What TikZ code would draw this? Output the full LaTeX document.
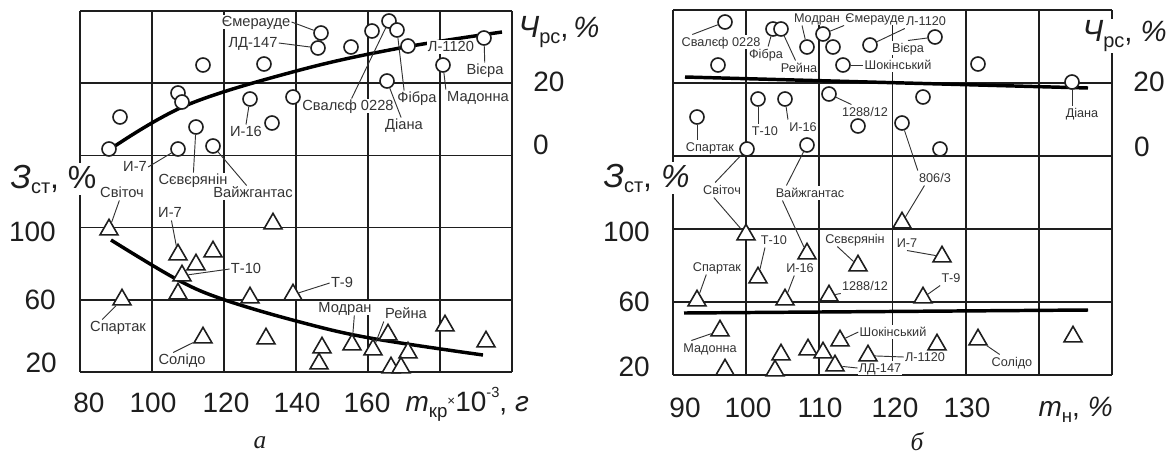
\documentclass[tikz,border=0pt]{standalone}
\usepackage{fontspec}
\setmainfont{Liberation Sans}
\newfontfamily\capfont{Liberation Serif}
\usetikzlibrary{shapes.geometric}
\definecolor{ink}{HTML}{1E1E1E}
\definecolor{labc}{HTML}{333333}
\begin{document}
\begin{tikzpicture}[x=0.75pt,y=-0.75pt,
  gridline/.style={draw=ink,line width=1.25pt},
  fitline/.style={draw=black,line width=2.6pt},
  circ/.style={circle,draw=ink,fill=white,line width=1.2pt,minimum size=10.5pt,inner sep=0pt},
  tri/.style={regular polygon,regular polygon sides=3,draw=ink,fill=white,line width=1.2pt,minimum size=15.5pt,inner sep=0pt,yshift=-2pt},
  laba/.style={fill=white,text=labc,inner sep=0.8pt,font=\fontsize{11}{12}\selectfont,text height=1.5ex,text depth=0.25ex},
  labb/.style={fill=white,text=labc,inner sep=0.8pt,font=\fontsize{9.5}{10}\selectfont,text height=1.5ex,text depth=0.25ex},
  lead/.style={draw=labc,line width=0.7pt},
  ticklab/.style={text=ink,font=\fontsize{21}{21}\selectfont,inner sep=0pt},
  axlab/.style={text=ink,fill=white,inner sep=1pt,anchor=base west},
  caption/.style={text=ink,font=\capfont\itshape\fontsize{19}{19}\selectfont,inner sep=0pt}
]
\useasboundingbox (0,0) rectangle (1172,455);

% ---------- grids ----------
\foreach \x in {80,152,224,296,368,440,512} \draw[gridline] (\x,11) -- (\x,372);
\foreach \y in {11,83.2,155.4,227.6,299.8,372} \draw[gridline] (80,\y) -- (512,\y);
\foreach \x in {673,746.2,819.3,892.5,965.7,1038.8,1112} \draw[gridline] (\x,10) -- (\x,375);
\foreach \y in {10,83,156,229,302,375} \draw[gridline] (673,\y) -- (1112,\y);

% ---------- fit lines ----------
\draw[fitline] plot[smooth,tension=0.6] coordinates {(112,148) (187,105) (300,70) (400,48) (502,32)};
\draw[fitline] plot[smooth,tension=0.6] coordinates {(111,240) (178,280) (225,300) (300,322) (370,338) (483,355)};
\draw[fitline] (685,77) -- (1088,88);
\draw[fitline] (684,313) -- (1088,310);

% ---------- tick labels ----------
\node[ticklab,anchor=east] (ya100) at (56,232) {100};
\node[ticklab,anchor=east] (ya60) at (56,300) {60};
\node[ticklab,anchor=east] (ya20) at (57,363) {20};
\node[ticklab] (yr20a) at (549,82) {20};
\node[ticklab] (yr0a) at (541,145) {0};
\node[ticklab] (xa80) at (89,403) {80};
\node[ticklab] (xa100) at (153,403) {100};
\node[ticklab] (xa120) at (226,403) {120};
\node[ticklab] (xa140) at (297,403) {140};
\node[ticklab] (xa160) at (367,403) {160};

\node[ticklab,anchor=east] (yb100) at (650,232) {100};
\node[ticklab,anchor=east] (yb60) at (650,302) {60};
\node[ticklab,anchor=east] (yb20) at (650,367) {20};
\node[ticklab] (yr20b) at (1149,82) {20};
\node[ticklab] (yr0b) at (1142,147) {0};
\node[ticklab] (xb90) at (685,408) {90};
\node[ticklab] (xb100) at (748,408) {100};
\node[ticklab] (xb110) at (820,408) {110};
\node[ticklab] (xb120) at (895,408) {120};
\node[ticklab] (xb130) at (967,408) {130};

% ---------- axis titles ----------
\node[axlab] (zsta) at (9,188) {{\fontsize{25}{25}\selectfont\itshape З}\raisebox{-4pt}{\fontsize{15}{15}\selectfont ст}{\fontsize{24}{24}\selectfont, \%}};
\node[axlab] (zstb) at (602,187) {{\fontsize{25}{25}\selectfont\itshape З}\raisebox{-4pt}{\fontsize{15}{15}\selectfont ст}{\fontsize{24}{24}\selectfont, \itshape\%}};
\node[axlab] (chra) at (517,37) {{\fontsize{23}{23}\selectfont\itshape Ч}\raisebox{-5pt}{\fontsize{15}{15}\selectfont рс}{\fontsize{22}{22}\selectfont,\,\itshape\%}};
\node[axlab] (chrb) at (1081,41) {{\fontsize{23}{23}\selectfont\itshape Ч}\raisebox{-5pt}{\fontsize{15}{15}\selectfont рс}{\fontsize{22}{22}\selectfont, \itshape\%}};
\node[axlab] (mkr) at (404,411) {{\fontsize{21}{21}\selectfont\itshape m}\raisebox{-5pt}{\fontsize{14}{14}\selectfont кр}\raisebox{4pt}{\fontsize{10}{10}\selectfont ×}{\fontsize{21}{21}\selectfont 10}\raisebox{10pt}{\fontsize{11}{11}\selectfont -3}{\fontsize{21}{21}\selectfont , \itshape г}};
\node[axlab] (mn) at (1037,416) {{\fontsize{21}{21}\selectfont\itshape m}\raisebox{-5pt}{\fontsize{14}{14}\selectfont н}{\fontsize{21}{21}\selectfont, \itshape\%}};

\node[caption] (capa) at (260,443) {а};
\node[caption] (capb) at (917,442) {б};

% ---------- labels panel a ----------
\node[laba] (a-emer) at (256,22) {Ємерауде};
\node[laba] (a-ld147) at (253,43) {ЛД-147};
\node[laba] (a-i16c) at (246,132) {И-16};
\node[laba] (a-i7c) at (135,167) {И-7};
\node[laba] (a-sev) at (193,180) {Сєвєрянін};
\node[laba] (a-vaj) at (253,193) {Вайжгантас};
\node[laba] (a-sval) at (348,106) {Свалєф 0228};
\node[laba] (a-fib) at (417,98) {Фібра};
\node[laba] (a-dia) at (404,125) {Діана};
\node[laba] (a-l1120) at (451,47) {Л-1120};
\node[laba] (a-vie) at (485,70) {Вієра};
\node[laba] (a-mad) at (478,97) {Мадонна};
\node[laba] (a-svit) at (122,193) {Світоч};
\node[laba] (a-i7t) at (170,213) {И-7};
\node[laba] (a-t10) at (246,269) {Т-10};
\node[laba] (a-spar) at (118,327) {Спартак};
\node[laba] (a-sol) at (182,360) {Солідо};
\node[laba] (a-t9) at (342,283) {Т-9};
\node[laba] (a-mod) at (345,308) {Модран};
\node[laba] (a-rei) at (406,314) {Рейна};

% ---------- labels panel b ----------
\node[labb] (b-sval) at (721,42) {Свалєф 0228};
\node[labb] (b-fib) at (766,54) {Фібра};
\node[labb] (b-rei) at (799,68) {Рейна};
\node[labb] (b-mod) at (817,18) {Модран};
\node[labb] (b-emer) at (875,18) {Ємерауде};
\node[labb] (b-l1120) at (926,21) {Л-1120};
\node[labb] (b-vie) at (908,48) {Вієра};
\node[labb] (b-shok) at (898,65) {Шокінський};
\node[labb] (b-t10c) at (765,131) {Т-10};
\node[labb] (b-i16c) at (803,127) {И-16};
\node[labb] (b-1288c) at (865,112) {1288/12};
\node[labb] (b-sparc) at (710,147) {Спартак};
\node[labb] (b-806) at (935,178) {806/3};
\node[labb] (b-dia) at (1082,113) {Діана};
\node[labb] (b-svit) at (722,190) {Світоч};
\node[labb] (b-vaj) at (810,193) {Вайжгантас};
\node[labb] (b-sev) at (855,239) {Сєвєрянін};
\node[labb] (b-t10t) at (774,240) {Т-10};
\node[labb] (b-spart) at (717,267) {Спартак};
\node[labb] (b-i16t) at (800,268) {И-16};
\node[labb] (b-1288t) at (865,286) {1288/12};
\node[labb] (b-mad) at (710,348) {Мадонна};
\node[labb] (b-shokt) at (893,332) {Шокінський};
\node[labb] (b-ld147) at (880,368) {ЛД-147};
\node[labb] (b-l1120t) at (925,357) {Л-1120};
\node[labb] (b-i7) at (907,243) {И-7};
\node[labb] (b-t9) at (951,278) {Т-9};
\node[labb] (b-sol) at (1012,362) {Солідо};

% ---------- markers ----------
\foreach \n/\x/\y in {1/109/149,2/120/117,3/178/93,4/182/102,5/178/149,6/196/127,7/203/65,8/213/146,9/250/99,10/264/64,11/272/123,12/293/97,13/321/33,14/318/48,15/351/47,16/372/31,17/389/21,18/397/30,19/408/46,20/387/81,21/443/65,22/484/38}
  \node[circ] (ca\n) at (\x,\y) {};
\foreach \n/\x/\y in {1/109/227,2/122/297,3/178/252,4/196/262,5/213/249,6/182/273,7/178/291,8/203/335,9/273/221,10/250/295,11/293/292,12/266/336,13/322/345,14/319/361,15/352/342,16/373/347,17/388/332,18/408/350,19/391/365,20/401/365,21/445/323,22/486/339}
  \node[tri] (ta\n) at (\x,\y) {};
\foreach \n/\x/\y in {1/725/22,2/773/29,3/781/29,4/718/65,5/807/47,6/823/34,7/833/47,8/870/45,9/935/37,10/843/65,11/978/64,12/1072/82,13/758/99,14/785/99,15/829/94,16/697/117,17/858/126,18/923/97,19/902/123,20/747/149,21/807/145,22/940/149}
  \node[circ] (cb\n) at (\x,\y) {};
\foreach \n/\x/\y in {1/746/232,2/807/251,3/858/263,4/758/275,5/697/298,6/785/297,7/829/293,8/720/328,9/725/367,10/781/352,11/775/368,12/808/347,13/823/350,14/840/338,15/835/363,16/868/353,17/902/220,18/942/254,19/923/295,20/937/342,21/978/337,22/1073/334}
  \node[tri] (tb\n) at (\x,\y) {};

% ---------- leaders panel a ----------
\draw[lead] (a-emer.east) -- (ca13);
\draw[lead] (a-ld147.east) -- (ca14);
\draw[lead] (ca9) -- (a-i16c.north);
\draw[lead] (a-i7c.east) -- (ca5);
\draw[lead] (ca6) -- (a-sev);
\draw[lead] (ca8) -- (a-vaj);
\draw[lead] (ca17) -- (a-sval);
\draw[lead] (ca18) -- ([xshift=6pt]a-fib.north west);
\draw[lead] (ca20) -- (a-dia);
\draw[lead] (ca22) -- (a-vie);
\draw[lead] (ca21) -- (a-mad.north west);
\draw[lead] (ta1) -- (a-svit);
\draw[lead] (ta3) -- (a-i7t);
\draw[lead] (ta6) -- (a-t10.west);
\draw[lead] (ta2) -- ([xshift=10pt]a-spar.north west);
\draw[lead] (ta8) -- ([xshift=12pt]a-sol.north west);
\draw[lead] (ta11) -- (a-t9.west);
\draw[lead] (ta15) -- ([xshift=7pt]a-mod.south);
\draw[lead] (ta16) -- (a-rei.south west);

% ---------- leaders panel b ----------
\draw[lead] (cb1) -- ([xshift=9pt]b-sval.north west);
\draw[lead] (cb2) -- (b-fib);
\draw[lead] (cb3) -- (b-rei);
\draw[lead] (cb5) -- ([xshift=7pt]b-mod.south west);
\draw[lead] (cb6) -- (b-emer.south west);
\draw[lead] (cb8) -- (b-l1120.south west);
\draw[lead] (cb9) -- (b-vie.north);
\draw[lead] (cb10) -- (b-shok.west);
\draw[lead] (cb13) -- (cb13 |- b-t10c.north);
\draw[lead] (cb14) -- (b-i16c.north west);
\draw[lead] (cb15) -- ([xshift=8pt]b-1288c.north west);
\draw[lead] (cb16) -- (cb16 |- b-sparc.north);
\draw[lead] (cb19) -- (b-806.north west);
\draw[lead] (tb17) -- ([xshift=5pt]b-806.south west);
\draw[lead] (cb12) -- (cb12 |- b-dia.north);
\draw[lead] (cb20) -- ([xshift=10pt]b-svit.north west);
\draw[lead] (tb1) -- ([xshift=9pt]b-svit.south west);
\draw[lead] (cb21) -- ([xshift=9pt]b-vaj.north west);
\draw[lead] (tb2) -- ([xshift=6pt]b-vaj.south west);
\draw[lead] (tb3) -- ([xshift=10pt]b-sev.south west);
\draw[lead] (tb4) -- ([xshift=4pt]b-t10t.south west);
\draw[lead] (tb5) -- ([xshift=11pt]b-spart.south west);
\draw[lead] (tb6) -- ([xshift=7pt]b-i16t.south west);
\draw[lead] (tb7) -- (b-1288t.south west);
\draw[lead] (tb8) -- ([xshift=7pt]b-mad.north west);
\draw[lead] (tb14) -- (b-shokt.west);
\draw[lead] (tb15) -- (b-ld147.west);
\draw[lead] (tb16) -- (b-l1120t.west);
\draw[lead] (tb18) -- (b-i7.south);
\draw[lead] (tb19) -- (b-t9.south west);
\draw[lead] (tb21) -- ([xshift=7pt]b-sol.north west);
\end{tikzpicture}
\end{document}
